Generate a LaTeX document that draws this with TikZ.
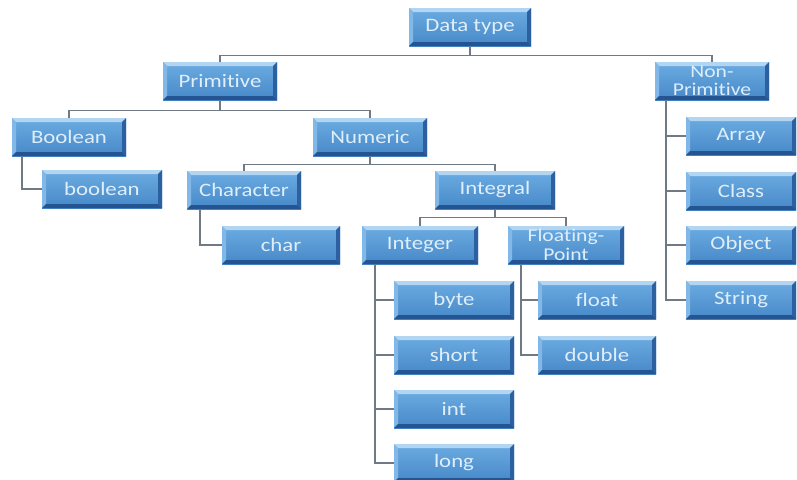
\documentclass[tikz,border=0pt]{standalone}
\usepackage{fontspec}
\setmainfont[FakeStretch=1.2, Ligatures=NoCommon]{Carlito}
\usepackage{tikz}
\usetikzlibrary{positioning}

\definecolor{boxtop}{RGB}{108,172,226}
\definecolor{boxbot}{RGB}{70,136,200}
\definecolor{bevlight}{RGB}{178,214,242}
\definecolor{bevleft}{RGB}{130,184,232}
\definecolor{bevright}{RGB}{44,96,160}
\definecolor{bevbot}{RGB}{36,84,146}
\definecolor{boxtext}{RGB}{222,238,250}
\definecolor{linkgray}{RGB}{112,122,132}

\tikzset{
  tbox/.style={rectangle, top color=boxtop, bottom color=boxbot,
    minimum width=114, minimum height=38,
    inner sep=1pt, text=boxtext, align=center,
    font=\fontsize{19}{17}\selectfont,
    path picture={
      \fill[bevlight] (path picture bounding box.north west)
        -- (path picture bounding box.north east)
        -- ([shift={(-4pt,-4pt)}]path picture bounding box.north east)
        -- ([shift={(4pt,-4pt)}]path picture bounding box.north west) -- cycle;
      \fill[bevleft] (path picture bounding box.north west)
        -- (path picture bounding box.south west)
        -- ([shift={(4pt,4pt)}]path picture bounding box.south west)
        -- ([shift={(4pt,-4pt)}]path picture bounding box.north west) -- cycle;
      \fill[bevright] (path picture bounding box.north east)
        -- (path picture bounding box.south east)
        -- ([shift={(-4pt,4pt)}]path picture bounding box.south east)
        -- ([shift={(-4pt,-4pt)}]path picture bounding box.north east) -- cycle;
      \fill[bevbot] (path picture bounding box.south west)
        -- (path picture bounding box.south east)
        -- ([shift={(-4pt,4pt)}]path picture bounding box.south east)
        -- ([shift={(4pt,4pt)}]path picture bounding box.south west) -- cycle;
    }},
  twoline/.style={inner sep=0pt, font=\fontsize{18}{18.5}\selectfont},
  link/.style={draw=linkgray, line width=1.4pt}
}

\begin{document}
\begin{tikzpicture}[x=1pt,y=-1pt]
        \useasboundingbox (0,0) rectangle (797,479);

        % top levels
        \node[tbox, minimum width=122] (dtype) at (470,27) {Data type};
        \node[tbox] (prim) at (220,81) {Primitive};
        \node[tbox, twoline] (nonprim) at (712,81) {Non-\\Primitive};

        % primitive side
        \node[tbox] (boolcls) at (69,137) {Boolean};
        \node[tbox, minimum width=120] (boolv) at (102,189) {boolean};
        \node[tbox] (numeric) at (370,137) {Numeric};
        \node[tbox] (charcls) at (244,190) {Character};
        \node[tbox, minimum width=118] (charv) at (281,245) {char};
        \node[tbox, minimum width=120] (integral) at (495,190) {Integral};
        \node[tbox, minimum width=116] (integer) at (420,245) {Integer};
        \node[tbox, twoline, minimum width=116] (floating) at (566,245) {Floating-\\Point};

        \node[tbox, minimum width=120] (byte) at (454,300) {byte};
        \node[tbox, minimum width=120] (short) at (454,355) {short};
        \node[tbox, minimum width=120] (int) at (454,409) {int};
        \node[tbox, minimum width=120] (long) at (454,463) {long};
        \node[tbox, minimum width=118] (float) at (597,300) {float};
        \node[tbox, minimum width=118] (double) at (597,355) {double};

        % non-primitive side
        \node[tbox, minimum width=110] (array) at (741,136) {Array};
        \node[tbox, minimum width=110] (class) at (741,191) {Class};
        \node[tbox, minimum width=110] (object) at (741,245) {Object};
        \node[tbox, minimum width=110] (string) at (741,300) {String};

        % connectors
        \path[link] (dtype.south) -- ++(0,9) -| (prim.north);
        \path[link] (dtype.south) -- ++(0,9) -| (nonprim.north);
        \path[link] (prim.south) -- ++(0,10) -| (boolcls.north);
        \path[link] (prim.south) -- ++(0,10) -| (numeric.north);
        \path[link] (numeric.south) -- ++(0,8) -| (charcls.north);
        \path[link] (numeric.south) -- ++(0,8) -| (integral.north);
        \path[link] (integral.south) -- ++(0,8) -| (integer.north);
        \path[link] (integral.south) -- ++(0,8) -| (floating.north);

        \path[link] ([xshift=10]boolcls.south west) |- (boolv.west);
        \path[link] ([xshift=13]charcls.south west) |- (charv.west);
        \foreach \leaf in {byte,short,int,long}
          \path[link] ([xshift=13]integer.south west) |- (\leaf.west);
        \foreach \leaf in {float,double}
          \path[link] ([xshift=13]floating.south west) |- (\leaf.west);
        \foreach \leaf in {array,class,object,string}
          \path[link] ([xshift=11]nonprim.south west) |- (\leaf.west);
      \end{tikzpicture}
\end{document}
